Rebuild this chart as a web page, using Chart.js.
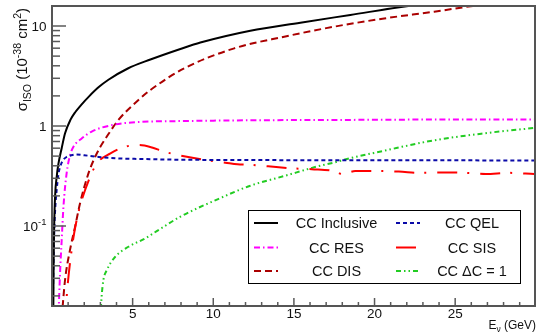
<!DOCTYPE html>
<html>
<head>
<meta charset="utf-8">
<script src="https://cdn.jsdelivr.net/npm/chart.js@4.4.1/dist/chart.umd.min.js"></script>
<style>
  html, body { margin: 0; padding: 0; background: #fff; }
  #wrap { width: 539px; height: 334px; }
</style>
</head>
<body>
<div id="wrap"><canvas id="xsec-chart" width="539" height="334"></canvas></div>
<script>
// neutrino energy (GeV) and cross section (10^-38 cm^2)
let inclusiveE  = [0.08, 0.1, 0.13, 0.19, 0.3, 0.4, 0.6, 0.81, 1.14, 1.45, 1.8, 2.3, 2.9, 3.5, 4.7, 6.1, 7.96, 9.2, 12.3, 15.4, 18.5, 22.1, 26, 30];
let inclusiveXs = [0.012, 0.04, 0.09, 0.196, 0.32, 0.42, 0.6, 0.845, 1.15, 1.38, 1.62, 1.98, 2.45, 2.9, 3.76, 4.62, 5.89, 6.84, 8.98, 10.8, 12.9, 15.85, 18.5, 21];

let qelE  = [0.04, 0.07, 0.1, 0.15, 0.2, 0.29, 0.4, 0.55, 0.71, 0.9, 1.2, 1.5, 2, 2.9, 4, 5.5, 8, 12, 18, 30];
let qelXs = [0.01, 0.025, 0.05, 0.1, 0.15, 0.23, 0.33, 0.41, 0.46, 0.49, 0.51, 0.52, 0.51, 0.49, 0.475, 0.468, 0.46, 0.457, 0.454, 0.453];

let resE  = [0.38, 0.5, 0.6, 0.71, 0.91, 1.12, 1.33, 1.84, 2.46, 3.7, 5.5, 8, 12, 18, 24, 30];
let resXs = [0.01, 0.034, 0.072, 0.156, 0.34, 0.51, 0.62, 0.75, 0.88, 1.02, 1.1, 1.12, 1.14, 1.15, 1.16, 1.16];

let sisE  = [0.8, 0.91, 1.22, 1.53, 2.36, 2.88, 3.6, 4.53, 5.4, 6.2, 6.85, 8.1, 9.5, 10.75, 11.5, 12.2, 13.4, 14.9, 16.1, 17.6, 18.0, 18.8, 20.3, 21.5, 22.9, 24.3, 25.6, 26.9, 28.3, 29.9];
let sisXs = [0.01, 0.0196, 0.058, 0.115, 0.31, 0.44, 0.53, 0.62, 0.645, 0.61, 0.56, 0.5, 0.457, 0.43, 0.414, 0.41, 0.395, 0.377, 0.37, 0.35, 0.329, 0.355, 0.355, 0.35, 0.34, 0.343, 0.34, 0.331, 0.34, 0.331];

let disE  = [0.6, 0.81, 1.12, 1.43, 1.74, 2.26, 2.67, 3.0, 3.39, 4.12, 5.36, 6.1, 8.2, 11.3, 14.4, 17.5, 20.6, 23.7, 26.1, 30];
let disXs = [0.012, 0.029, 0.058, 0.098, 0.169, 0.336, 0.49, 0.62, 0.78, 1.15, 1.82, 2.29, 3.77, 5.98, 7.82, 9.85, 11.9, 13.9, 15.85, 18.5];

let charmE  = [2.97, 3.08, 3.19, 3.39, 3.91, 4.74, 5.77, 6.6, 7.96, 10.3, 12.3, 14.4, 16.4, 17.7, 18.1, 20.6, 23.7, 26.8, 30];
let charmXs = [0.01, 0.02, 0.029, 0.036, 0.049, 0.062, 0.075, 0.091, 0.124, 0.186, 0.253, 0.316, 0.392, 0.44, 0.46, 0.566, 0.72, 0.845, 0.96];

let seriesNames = ['CC Inclusive', 'CC QEL', 'CC RES', 'CC SIS', 'CC DIS', 'CC \u0394C = 1'];
let xLabelValues = [5, 10, 15, 20, 25];

function pts(es, ys) {
    return es.map((e, i) => ({ x: e, y: ys[i] }));
}

const FONT = '"Liberation Sans", Arial, sans-serif';

// draws the ROOT-style frame, ticks, titles and legend
const rootFrame = {
    id: 'rootFrame',
    afterDatasetsDraw(chart) {
        const ctx = chart.ctx;
        const a = chart.chartArea;
        const xs = chart.scales.x, ys = chart.scales.y;
        ctx.save();
        ctx.setLineDash([]);

        // ticks
        ctx.strokeStyle = '#5a5a5a';
        ctx.lineWidth = 1.5;
        for (let v = 1; v < 30; v++) {
            const px = xs.getPixelForValue(v);
            const len = v % 5 === 0 ? 8 : 4;
            ctx.beginPath(); ctx.moveTo(px, a.bottom); ctx.lineTo(px, a.bottom - len); ctx.stroke();
        }
        for (let d = -2; d <= 1; d++) {
            for (let m = 1; m <= 9; m++) {
                const v = m * Math.pow(10, d);
                if (v < ys.min || v > ys.max) continue;
                const py = ys.getPixelForValue(v);
                const len = m === 1 ? 14 : 8;
                ctx.beginPath(); ctx.moveTo(a.left, py); ctx.lineTo(a.left + len, py); ctx.stroke();
            }
        }

        // frame
        ctx.strokeStyle = '#555';
        ctx.lineWidth = 2;
        ctx.strokeRect(a.left, a.top, a.right - a.left, a.bottom - a.top);

        // x tick labels
        ctx.fillStyle = '#111';
        ctx.font = '13.5px ' + FONT;
        ctx.textAlign = 'center';
        ctx.textBaseline = 'alphabetic';
        xLabelValues.forEach(v => ctx.fillText(String(v), xs.getPixelForValue(v), 317.5));

        // y tick labels
        ctx.textAlign = 'left';
        const yRight = 46.5;
        [[0.1, '10', '-1'], [1, '1', ''], [10, '10', '']].forEach(([v, base, sup]) => {
            const py = ys.getPixelForValue(v);
            ctx.font = '9.5px ' + FONT;
            const sw = sup ? ctx.measureText(sup).width : 0;
            ctx.font = '13.5px ' + FONT;
            const bw = ctx.measureText(base).width;
            ctx.fillText(base, yRight - sw - bw, py + 5);
            if (sup) {
                ctx.font = '9.5px ' + FONT;
                ctx.fillText(sup, yRight - sw, py - 1);
            }
        });

        // x title  E_nu (GeV)
        {
            const parts = [['E', 12, 0], ['\u03bd', 8.5, 3], [' (GeV)', 12, 0]];
            let w = 0;
            parts.forEach(p => { ctx.font = p[1] + 'px ' + FONT; w += ctx.measureText(p[0]).width; });
            let x = 536 - w;
            parts.forEach(p => {
                ctx.font = p[1] + 'px ' + FONT;
                ctx.fillText(p[0], x, 329 + p[2]);
                x += ctx.measureText(p[0]).width;
            });
        }

        // y title  sigma_ISO (10^-38 cm^2)
        {
            const parts = [['\u03c3', 15, 0], ['ISO', 10.5, 4], [' (10', 15, 0], ['-38', 10.5, -6], [' cm', 15, 0], ['2', 10.5, -6], [')', 15, 0]];
            let w = 0;
            parts.forEach(p => { ctx.font = p[1] + 'px ' + FONT; w += ctx.measureText(p[0]).width; });
            ctx.save();
            ctx.translate(27, 8 + w);
            ctx.rotate(-Math.PI / 2);
            let x = 0;
            parts.forEach(p => {
                ctx.font = p[1] + 'px ' + FONT;
                ctx.fillText(p[0], x, p[2]);
                x += ctx.measureText(p[0]).width;
            });
            ctx.restore();
        }

        // legend box
        const box = { l: 248.5, t: 210.5, r: 520.5, b: 283.5 };
        ctx.fillStyle = '#fff';
        ctx.fillRect(box.l, box.t, box.r - box.l, box.b - box.t);
        ctx.strokeStyle = '#000';
        ctx.lineWidth = 1;
        ctx.strokeRect(box.l, box.t, box.r - box.l, box.b - box.t);
        const rowY = [223, 247.5, 271];
        const lineX = [[254, 278], [396, 420]];
        const textX = [336.5, 472];
        ctx.font = '14.5px ' + FONT;
        ctx.textAlign = 'center';
        ctx.textBaseline = 'middle';
        chart.data.datasets.forEach((ds, i) => {
            const row = Math.floor(i / 2), col = i % 2;
            const y = rowY[row];
            ctx.strokeStyle = ds.borderColor;
            ctx.lineWidth = 2;
            ctx.setLineDash(ds.borderDash || []);
            ctx.beginPath(); ctx.moveTo(lineX[col][0], y); ctx.lineTo(lineX[col][1], y); ctx.stroke();
            ctx.setLineDash([]);
            ctx.fillStyle = '#111';
            ctx.fillText(ds.label, textX[col], y + 1);
        });
        ctx.restore();
    }
};

let ctxEl = document.getElementById('xsec-chart').getContext('2d');

let xsecChart = new Chart(ctxEl, {
    type: 'line',
    data: {
        datasets: [
            { label: seriesNames[0], data: pts(inclusiveE, inclusiveXs), borderColor: '#000000', borderDash: [] },
            { label: seriesNames[1], data: pts(qelE, qelXs), borderColor: '#0a0aa8', borderDash: [4, 3] },
            { label: seriesNames[2], data: pts(resE, resXs), borderColor: '#ff00ff', borderDash: [6, 3, 1.5, 3] },
            { label: seriesNames[3], data: pts(sisE, sisXs), borderColor: '#ff0000', borderDash: [20, 10, 2, 11] },
            { label: seriesNames[4], data: pts(disE, disXs), borderColor: '#aa0000', borderDash: [7, 4] },
            { label: seriesNames[5], data: pts(charmE, charmXs), borderColor: '#22cc22', borderDash: [5, 3, 1.5, 3, 1.5, 3] }
        ]
    },
    options: {
        responsive: false,
        devicePixelRatio: 1,
        animation: false,
        layout: { padding: { left: 52, right: 4, top: 6, bottom: 28 } },
        elements: {
            point: { radius: 0, hoverRadius: 0 },
            line: { borderWidth: 2, fill: false, cubicInterpolationMode: 'monotone' }
        },
        scales: {
            x: { type: 'linear', min: 0, max: 29.95, display: false },
            y: { type: 'logarithmic', min: Math.pow(10, -1.8), max: Math.pow(10, 1.2), display: false }
        },
        plugins: {
            legend: { display: false },
            tooltip: { enabled: false }
        }
    },
    plugins: [rootFrame]
});
</script>
</body>
</html>
